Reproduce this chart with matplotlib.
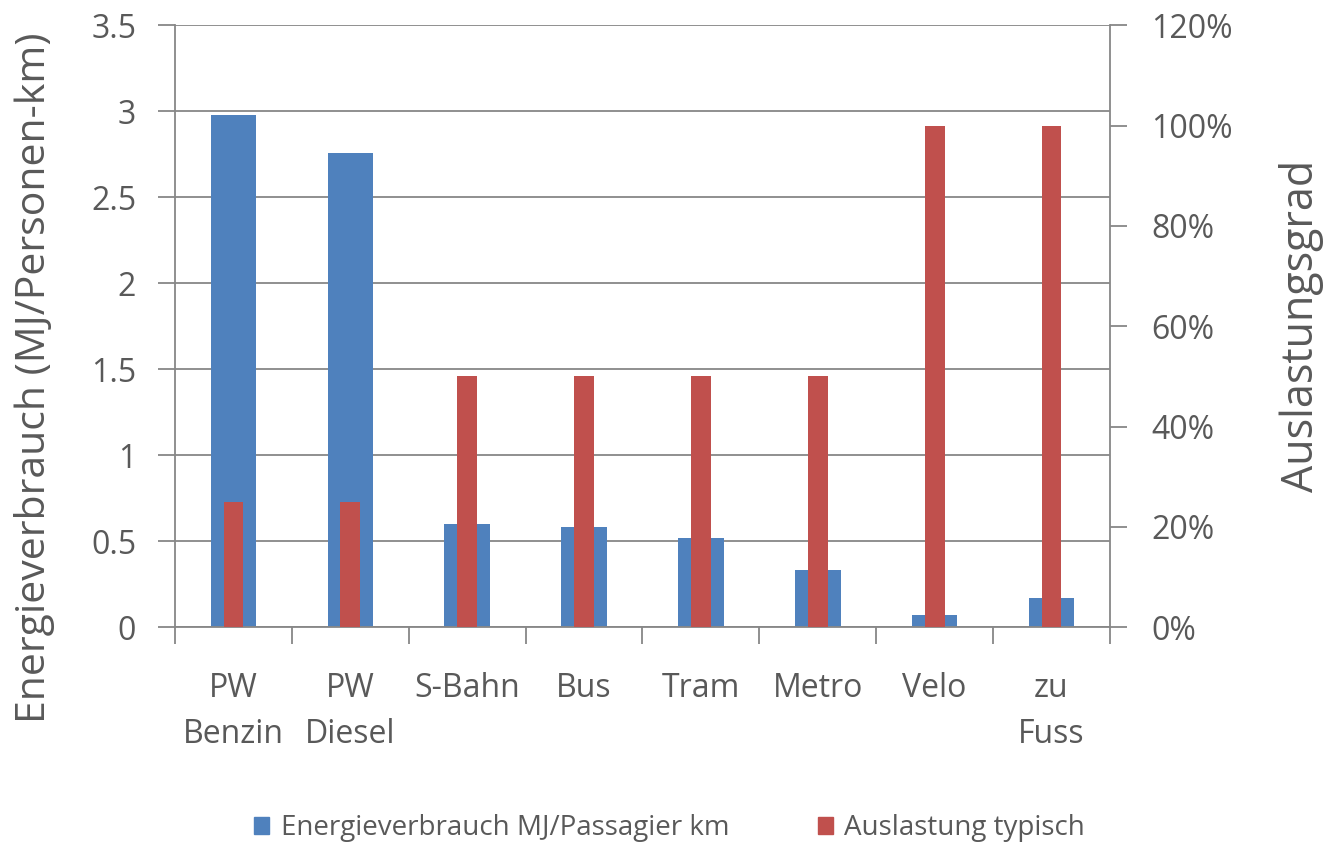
import matplotlib
matplotlib.use("Agg")
import matplotlib.pyplot as plt
from matplotlib.ticker import FuncFormatter, MultipleLocator
from matplotlib.patches import Patch
import numpy as np

categories = ["PW\nBenzin", "PW\nDiesel", "S-Bahn", "Bus", "Tram", "Metro", "Velo", "zu\nFuss"]
energie = [2.98, 2.76, 0.60, 0.58, 0.52, 0.33, 0.07, 0.17]
auslastung = [0.25, 0.25, 0.50, 0.50, 0.50, 0.50, 1.00, 1.00]

BLUE = "#4F81BD"
RED = "#C0504D"
GRID = "#878787"
TXT = "#595959"

plt.rcParams['font.family'] = ['Open Sans', 'DejaVu Sans']

fig = plt.figure(figsize=(13.26, 8.44), dpi=100)
ax = fig.add_axes([0.132, 0.257, 0.705, 0.713])
ax2 = ax.twinx()

x = np.arange(len(categories))
ax.bar(x, energie, width=0.39, color=BLUE, zorder=2)
ax2.bar(x, auslastung, width=0.17, color=RED, zorder=3)

ax.set_xlim(-0.5, len(categories) - 0.5)
ax.set_ylim(0, 3.5)
ax2.set_ylim(0, 1.2)
ax.yaxis.set_major_locator(MultipleLocator(0.5))
ax2.yaxis.set_major_locator(MultipleLocator(0.2))
ax.yaxis.set_major_formatter(FuncFormatter(lambda v, p: f"{v:g}"))
ax2.yaxis.set_major_formatter(FuncFormatter(lambda v, p: f"{v*100:.0f}%"))

ax.grid(axis='y', color=GRID, linewidth=1.3, zorder=0)
ax.set_axisbelow(True)

for a in (ax, ax2):
    a.spines["top"].set_visible(False)
    for s in ("left", "right", "bottom"):
        a.spines[s].set_color(GRID)
        a.spines[s].set_linewidth(1.3)
ax2.spines["left"].set_visible(False)
ax2.spines["bottom"].set_visible(False)
ax.spines["right"].set_visible(False)

# x ticks at category boundaries, labels in middle
ax.set_xticks(np.arange(-0.5, len(categories) + 0.5, 1.0))
ax.set_xticklabels([])
ax.set_xticks(x, minor=True)
ax.set_xticklabels(categories, minor=True, fontsize=23, color=TXT, linespacing=1.55)
ax.tick_params(axis='x', which='major', length=12, width=1.3, color=GRID, direction='out')
ax.tick_params(axis='x', which='minor', length=0, pad=32)

ax.tick_params(axis='y', length=12, width=1.3, color=GRID, labelsize=23, labelcolor=TXT, pad=16)
ax2.tick_params(axis='y', length=12, width=1.3, color=GRID, labelsize=23, labelcolor=TXT, pad=18)

ax.set_ylabel("Energieverbrauch (MJ/Personen-km)", fontsize=29.5, color=TXT)
ax.yaxis.set_label_coords(-0.128, 0.415)
ax2.set_ylabel("Auslastungsgrad", fontsize=31, color=TXT)
ax2.yaxis.set_label_coords(1.181, 0.5)

handles = [Patch(color=BLUE, label="Energieverbrauch MJ/Passagier km"),
           Patch(color=RED, label="Auslastung typisch")]
fig.legend(handles=handles, loc='center', bbox_to_anchor=(0.505, 0.019), ncol=2,
           frameon=False, fontsize=20, labelcolor=TXT, handlelength=0.55, handleheight=0.55,
           columnspacing=3.2, handletextpad=0.4)

fig.savefig("out.png", dpi=100)
